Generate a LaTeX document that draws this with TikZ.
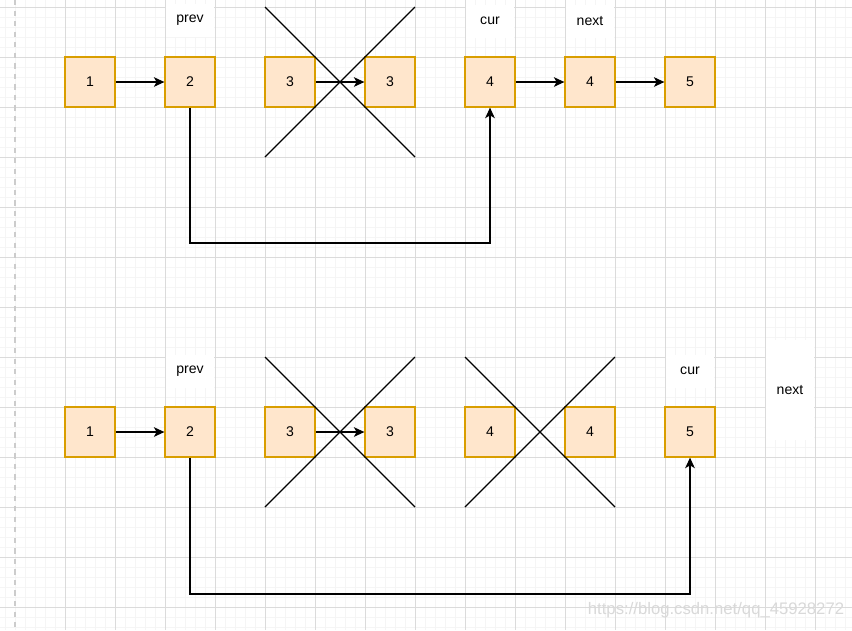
\documentclass[tikz,border=0pt]{standalone}
\usepackage{fontspec}
\setmainfont{Liberation Sans}
\usetikzlibrary{arrows.meta}
\definecolor{boxfill}{HTML}{FFE6CC}
\definecolor{boxline}{HTML}{D99E00}
\begin{document}
\begin{tikzpicture}[
  listnode/.style={draw=boxline,fill=boxfill,line width=0.7pt,minimum size=1cm,inner sep=0pt,font=\fontsize{8}{9}\selectfont},
  varlabel/.style={fill=white,minimum width=0.96cm,minimum height=0.66cm,inner sep=0pt,font=\fontsize{8}{9}\selectfont},
  link/.style={line width=0.65pt,-{Stealth[length=6pt,width=5.5pt,inset=1.6pt]}},
  crossline/.style={line width=0.65pt}]
\useasboundingbox (0,0) rectangle (17.04,-12.6);
\fill[white] (0,0) rectangle (17.04,-12.6);

% background grid
\foreach \x in {0.1,0.3,...,17.0} \draw[gray!8,line width=0.4pt] (\x,0) -- (\x,-12.6);
\foreach \y in {0.14,0.34,...,12.6} \draw[gray!8,line width=0.4pt] (0,-\y) -- (17.04,-\y);
\foreach \x in {1.3,2.3,...,16.3} \draw[gray!28,line width=0.5pt] (\x,0) -- (\x,-12.6);
\foreach \y in {0.14,1.14,...,12.2} \draw[gray!28,line width=0.5pt] (0,-\y) -- (17.04,-\y);
\draw[gray!40,dashed,line width=0.6pt] (0.3,0) -- (0.3,-12.6);

% first list
\node[varlabel] (p1) at (3.8,-0.4) {prev};
\node[varlabel] (c1) at (9.8,-0.42) {cur};
\node[varlabel] (n1) at (11.8,-0.42) {next};
\node[listnode] (a1) at (1.8,-1.64) {1};
\node[listnode] (a2) at (3.8,-1.64) {2};
\node[listnode] (a3) at (5.8,-1.64) {3};
\node[listnode] (a4) at (7.8,-1.64) {3};
\node[listnode] (a5) at (9.8,-1.64) {4};
\node[listnode] (a6) at (11.8,-1.64) {4};
\node[listnode] (a7) at (13.8,-1.64) {5};
\draw[crossline] (5.3,-0.14) -- (8.3,-3.14) (8.3,-0.14) -- (5.3,-3.14);
\draw[link] (a1)--(a2);
\draw[link] (a3)--(a4);
\draw[link] (a5)--(a6);
\draw[link] (a6)--(a7);
\draw[link] (a2.south) |- (6.8,-4.86) -| (a5.south);

% second list
\node[varlabel] (p2) at (3.8,-7.42) {prev};
\node[varlabel] (c2) at (13.8,-7.42) {cur};
\node[varlabel,minimum height=2cm] (n2) at (15.8,-7.8) {next};
\node[listnode] (b1) at (1.8,-8.64) {1};
\node[listnode] (b2) at (3.8,-8.64) {2};
\node[listnode] (b3) at (5.8,-8.64) {3};
\node[listnode] (b4) at (7.8,-8.64) {3};
\node[listnode] (b5) at (9.8,-8.64) {4};
\node[listnode] (b6) at (11.8,-8.64) {4};
\node[listnode] (b7) at (13.8,-8.64) {5};
\draw[crossline] (5.3,-7.14) -- (8.3,-10.14) (8.3,-7.14) -- (5.3,-10.14);
\draw[crossline] (9.3,-7.14) -- (12.3,-10.14) (12.3,-7.14) -- (9.3,-10.14);
\draw[link] (b1)--(b2);
\draw[link] (b3)--(b4);
\draw[link] (b2.south) |- (8.8,-11.88) -| (b7.south);

\node[text=gray!30,font=\fontsize{9.5}{10}\selectfont] (mark) at (14.32,-12.2) {https://blog.csdn.net/qq\_45928272};
\end{tikzpicture}
\end{document}
